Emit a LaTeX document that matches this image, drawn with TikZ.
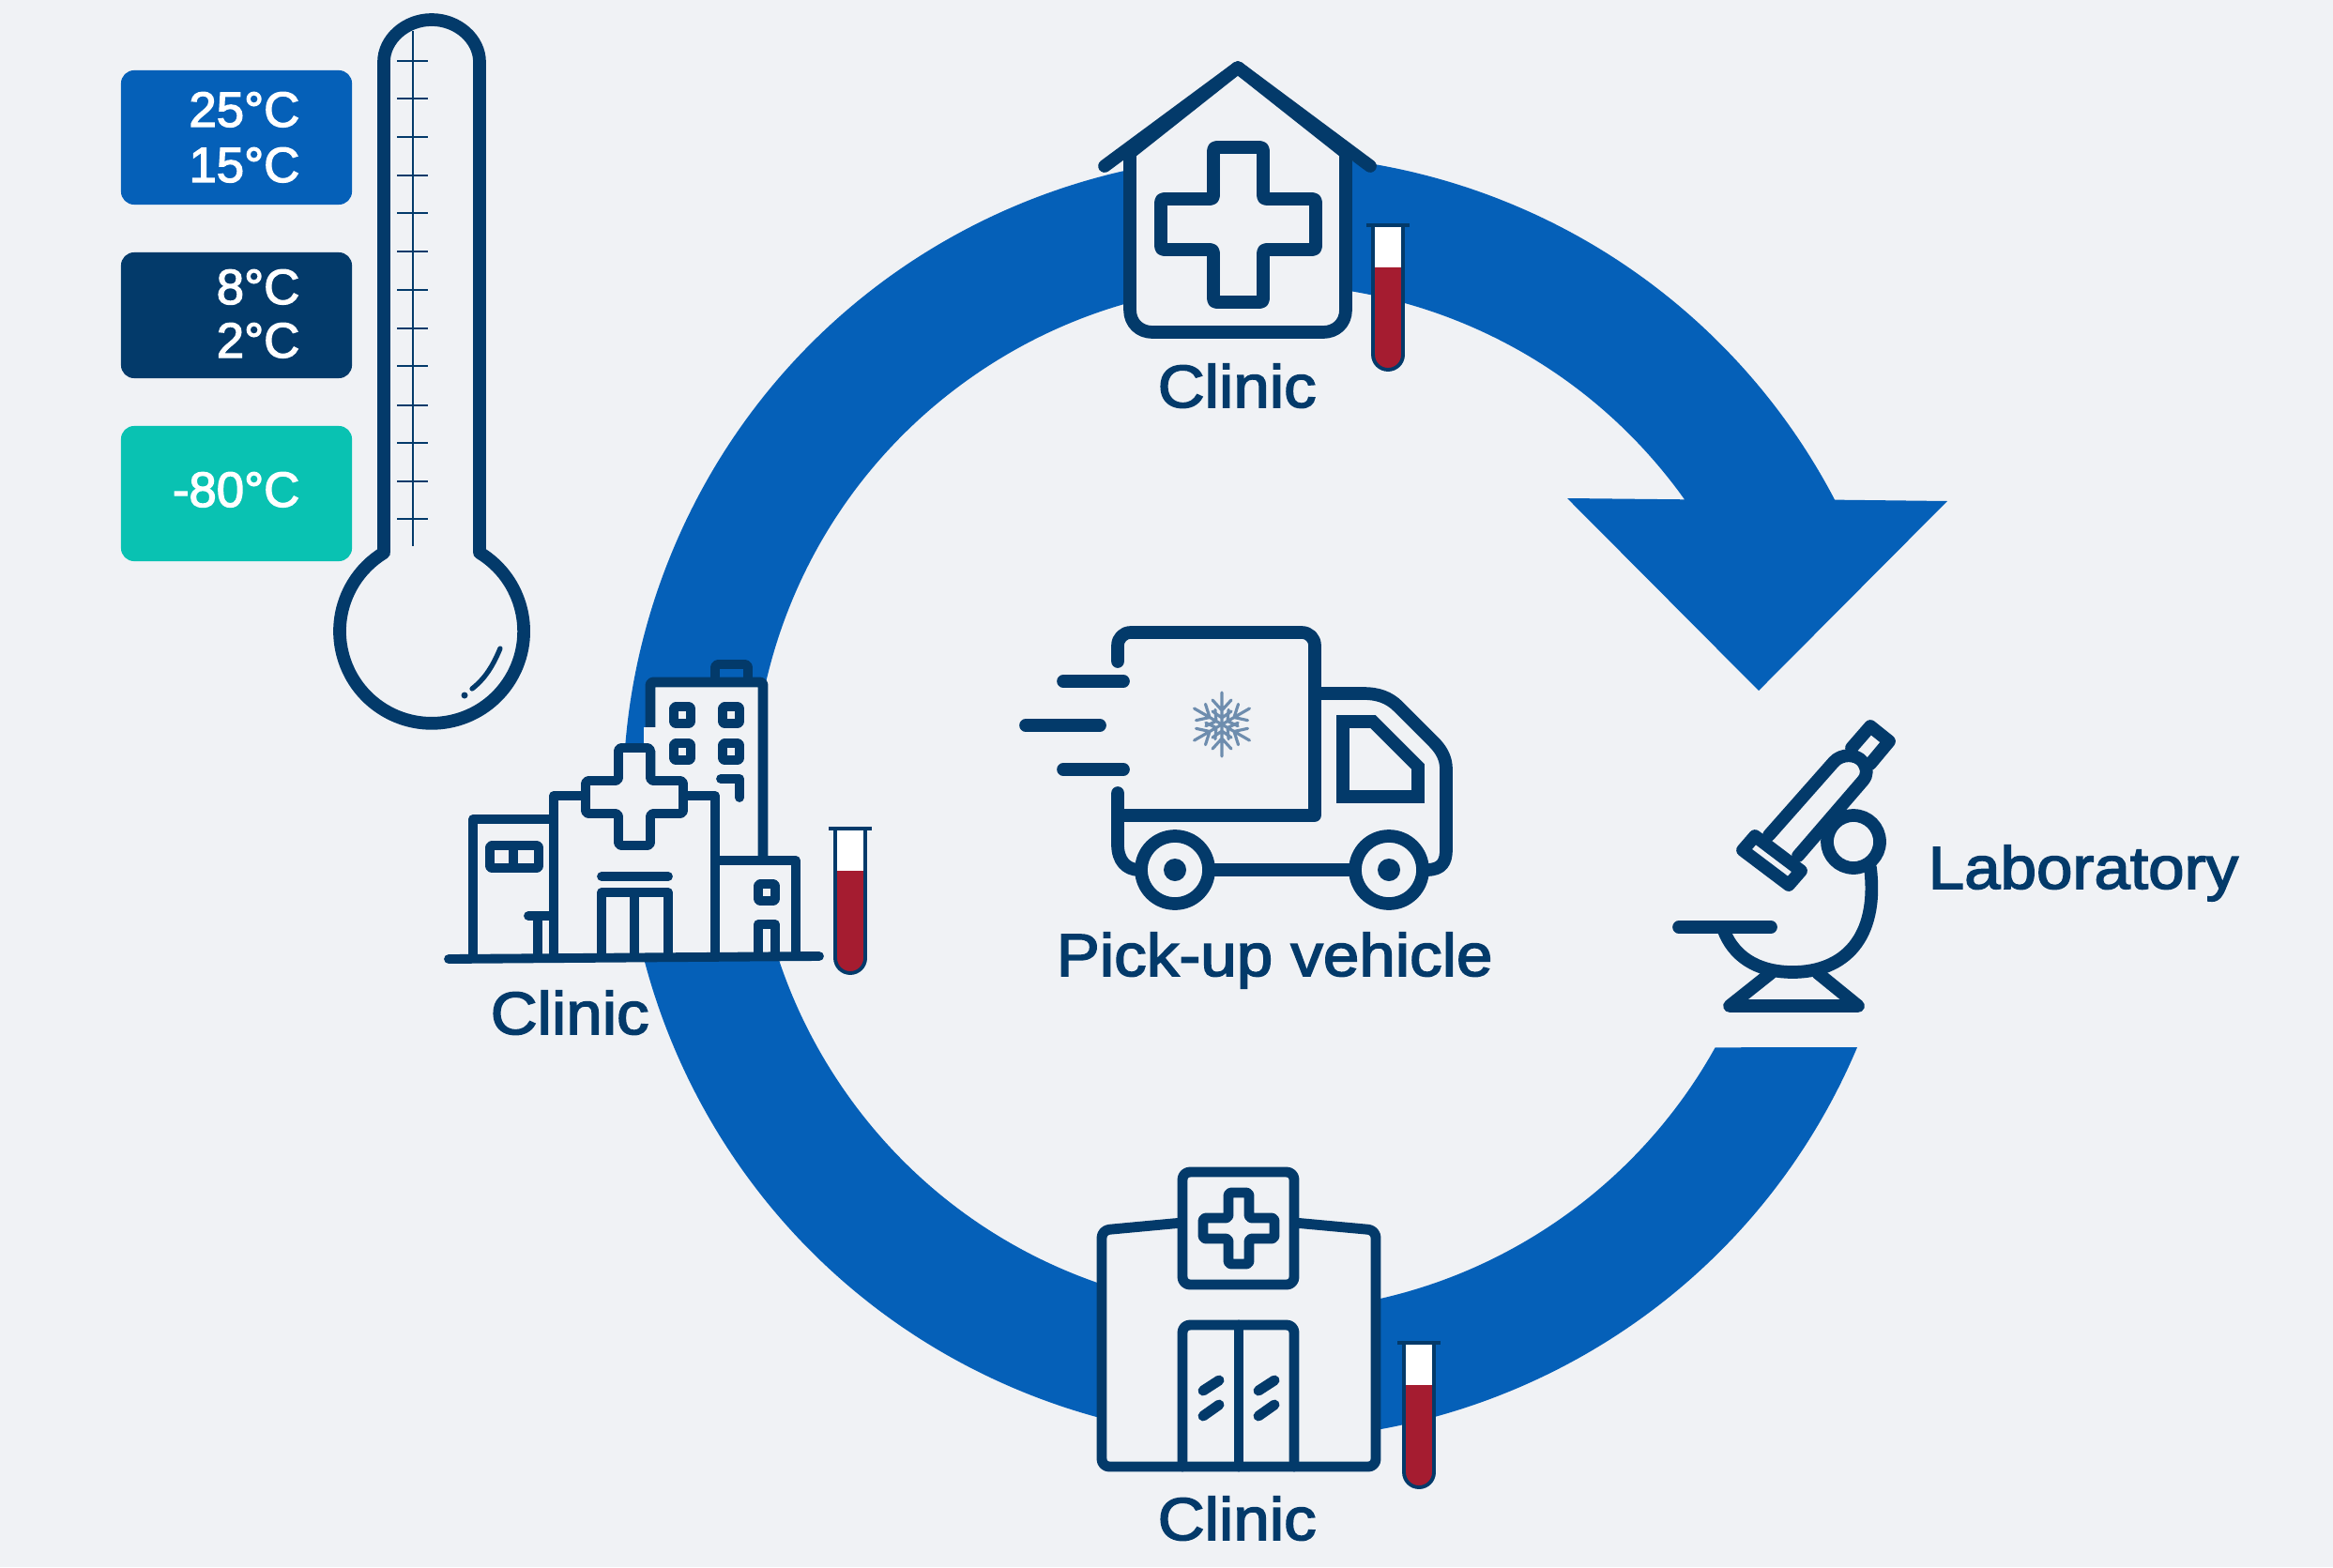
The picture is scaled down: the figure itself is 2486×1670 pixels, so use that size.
\documentclass[tikz,border=0pt]{standalone}
\usepackage{fontspec}
\newfontfamily\labfont[FakeStretch=1.08,RawFeature={embolden=2.5}]{Liberation Sans}
\newfontfamily\tempfont[RawFeature={embolden=2.5}]{Liberation Sans}
\usepackage{xcolor}
\definecolor{pagebg}{RGB}{240,242,245}
\definecolor{ringblue}{RGB}{5,96,184}
\definecolor{iconnavy}{RGB}{3,58,106}
\definecolor{coolteal}{RGB}{9,194,178}
\definecolor{bloodred}{RGB}{165,28,48}
\definecolor{flakeblue}{RGB}{110,141,174}

\begin{document}
\begin{tikzpicture}[x=0.01cm,y=-0.01cm,
   wide/.style={draw=iconnavy,line width=3.9pt,line cap=round,line join=round},
   slim/.style={draw=iconnavy,line width=2.8pt,line cap=round,line join=round},
   mid/.style={draw=iconnavy,line width=3.1pt,line cap=round,line join=round},
   tempbox/.style={rectangle,rounded corners=0.14cm,minimum width=2.46cm,inner sep=0pt},
   templab/.style={font=\tempfont\fontsize{15}{18}\selectfont,text=white,anchor=base east,inner sep=0pt},
   placelab/.style={font=\labfont\fontsize{18.2}{22}\selectfont,text=iconnavy,anchor=base west,inner sep=0pt}]
\useasboundingbox (0,0) rectangle (2486,1670);
\fill[pagebg] (0,0) rectangle (2486,1670);
\fill[ringblue] (1979,1116) arc[start angle=-22.9,end angle=-332.4,radius=6.84cm]
   -- (2075,534) -- (1874,736) -- (1670,531) -- (1795,532.3)
   arc[start angle=-324.5,end angle=-29.1,radius=5.47cm] -- cycle;
\node[tempbox,fill=ringblue,minimum height=1.43cm] (warmbox) at (252,146.5) {};
\node[tempbox,fill=iconnavy,minimum height=1.34cm] (chillbox) at (252,336) {};
\node[tempbox,fill=coolteal,minimum height=1.44cm] (frozenbox) at (252,526) {};
\node[templab] (warmhi) at (320,135) {25°C};
\node[templab] (warmlo) at (320,194) {15°C};
\node[templab] (chillhi) at (320,324) {8°C};
\node[templab] (chilllo) at (320,381) {2°C};
\node[templab] (frozenlab) at (320,540) {-80°C};
\draw[wide] (409,589) -- (409,66) .. controls (409,42) and (432,21) .. (460,21)
   .. controls (488,21) and (511,42) .. (511,66) -- (511,589)
   arc[start angle=58.7,end angle=-238.7,radius=0.98cm] -- cycle;
\draw[iconnavy,line width=0.8pt] (440,33) -- (440,582);
\foreach \ty in {65,105,146,187,227,268,309,350,390,432,472,513,553}{
   \draw[iconnavy,line width=0.8pt] (423,\ty) -- (456,\ty);
}
\draw[iconnavy,line width=1.5pt,line cap=round] (533,691) .. controls (525,710) and (517,723) .. (503,734);
\fill[iconnavy] (495,741) circle (3.5);
\draw[wide,fill=pagebg] (1204,163) -- (1204,330) .. controls (1204,345) and (1215,354) .. (1228,354)
   -- (1410,354) .. controls (1423,354) and (1434,345) .. (1434,330) -- (1434,163) -- (1319,72) -- cycle;
\draw[wide] (1177,177) -- (1319,72) -- (1460,177);
\draw[wide,rounded corners=0.03cm] (1293,157) -- (1346,157) -- (1346,212) -- (1402,212) -- (1402,266)
   -- (1346,266) -- (1346,322) -- (1293,322) -- (1293,266) -- (1237,266) -- (1237,212) -- (1293,212) -- cycle;
\node[placelab] (cliniclabtop) at (1233,434) {Clinic};
\draw[wide] (1191,705) -- (1191,688) .. controls (1191,680) and (1197,674) .. (1205,674) -- (1387,674)
   .. controls (1395,674) and (1401,680) .. (1401,688) -- (1401,869) -- (1191,869);
\draw[wide] (1191,845) -- (1191,900) .. controls (1191,917) and (1200,927) .. (1214,927);
\draw[wide] (1401,739) -- (1453,739) .. controls (1468,739) and (1480,743) .. (1490,753) -- (1527,790)
   .. controls (1536,799) and (1541,808) .. (1541,820) -- (1541,905) .. controls (1541,918) and (1537,927) .. (1520,927);
\draw[wide,line join=miter] (1431,769) -- (1463,769) -- (1511,817) -- (1511,849) -- (1431,849) -- cycle;
\draw[wide] (1293,927) -- (1438,927);
\foreach \wx in {1252,1480}{
   \draw[wide] (\wx,927) circle (36);
   \fill[iconnavy] (\wx,927) circle (12);
}
\draw[wide] (1133,726) -- (1197,726);
\draw[wide] (1093,773) -- (1172,773);
\draw[wide] (1133,820) -- (1197,820);
\foreach \a in {30,90,...,330}{
   \draw[flakeblue,line width=0.9pt,line cap=round,shift={(1302,772)},rotate=\a]
      (0,0) -- (34,0) (15,0) -- (26,10) (15,0) -- (26,-10) (7,0) -- (14,10) (7,0) -- (14,-10);
}
\node[placelab] (trucklab) at (1125,1040) {Pick-up vehicle};
\draw[mid,fill=pagebg,rounded corners=0.03cm] (693,1018) rectangle (813,727);
\draw[slim,rounded corners=0.03cm] (762,727) -- (762,708) -- (797,708) -- (797,727);
\fill[pagebg] (686,775) rectangle (700,800);
\draw[slim,fill=pagebg] (504,1018) -- (504,873) -- (590,873) -- (590,1018);
\draw[slim,fill=pagebg] (590,1018) -- (590,848) -- (762,848) -- (762,1018);
\draw[slim,fill=pagebg] (762,1018) -- (762,917) -- (848,917) -- (848,1018);
\draw[slim,fill=pagebg,rounded corners=0.03cm] (659,797) -- (693,797) -- (693,832) -- (728,832) -- (728,867)
   -- (693,867) -- (693,901) -- (659,901) -- (659,867) -- (624,867) -- (624,832) -- (659,832) -- cycle;
\foreach \wx/\wy in {727/762,779/762,727/801,779/801,817/951}{
   \draw[slim,rounded corners=0.02cm] (\wx-9,\wy-9) rectangle (\wx+9,\wy+9);
}
\draw[slim] (768,830) -- (788,830) -- (788,850);
\draw[slim,rounded corners=0.02cm] (522,901) rectangle (574,925);
\draw[slim] (547,901) -- (547,925);
\draw[slim] (563,976) -- (590,976);
\draw[slim] (573,976) -- (573,1018);
\draw[slim] (641,934) -- (712,934);
\draw[slim] (641,1018) -- (641,951) -- (712,951) -- (712,1018);
\draw[slim] (676,951) -- (676,1018);
\draw[slim] (808,1018) -- (808,985) -- (826,985) -- (826,1018);
\draw[slim] (478,1022) -- (873,1019);
\node[placelab] (cliniclableft) at (522,1102) {Clinic};
\draw[mid,fill=pagebg,rounded corners=0.08cm] (1174,1563) -- (1174,1311) -- (1260,1303) -- (1379,1303)
   -- (1466,1311) -- (1466,1563) -- cycle;
\draw[mid,fill=pagebg,rounded corners=0.08cm] (1260,1249) rectangle (1379,1369);
\draw[mid,rounded corners=0.03cm] (1309,1271) -- (1331,1271) -- (1331,1298) -- (1358,1298) -- (1358,1320)
   -- (1331,1320) -- (1331,1347) -- (1309,1347) -- (1309,1320) -- (1282,1320) -- (1282,1298) -- (1309,1298) -- cycle;
\draw[mid,rounded corners=0.08cm] (1260,1563) -- (1260,1412) -- (1379,1412) -- (1379,1563);
\draw[mid] (1320,1412) -- (1320,1563);
\foreach \gx in {1282,1341}{
   \draw[mid] (\gx,1482) -- (\gx+17,1471);
   \draw[mid] (\gx,1509) -- (\gx+17,1497);
}
\node[placelab] (cliniclabbot) at (1233,1641) {Clinic};
\foreach \tx/\ty in {1479/240,906/883,1512/1431}{
\begin{scope}[shift={(\tx,\ty)}]
   \fill[white] (-16,0) rectangle (16,46);
   \fill[bloodred] (-16,45) -- (-16,138) arc[start angle=180,end angle=360,radius=0.16cm] -- (16,45) -- cycle;
   \draw[iconnavy,line width=1.1pt] (-16,0) -- (-16,138) arc[start angle=180,end angle=360,radius=0.16cm] -- (16,0);
   \draw[iconnavy,line width=1.1pt] (-23,0) -- (23,0);
\end{scope}
}
\draw[wide] (1789,988) -- (1887,988);
\draw[wide] (1837,992) .. controls (1850,1025) and (1880,1036) .. (1910,1036)
   .. controls (1965,1036) and (2002,1000) .. (1993,925);
\draw[wide] (1887,1037) -- (1843,1072) -- (1980,1072) -- (1937,1037);
\draw[wide] (1975,897) circle (28);
\draw[wide] (1870,891) -- (1919,928) -- (1906,943) -- (1857,906) -- cycle;
\draw[wide] (1885,890) -- (1954,812) .. controls (1962,803) and (1978,803) .. (1985,812)
   .. controls (1990,820) and (1990,826) .. (1985,832) -- (1916,912);
\draw[wide] (1973,797) -- (1993,774) -- (2013,790) -- (1993,814);
\node[placelab] (lablab) at (2054,947) {Laboratory};
\end{tikzpicture}
\end{document}
